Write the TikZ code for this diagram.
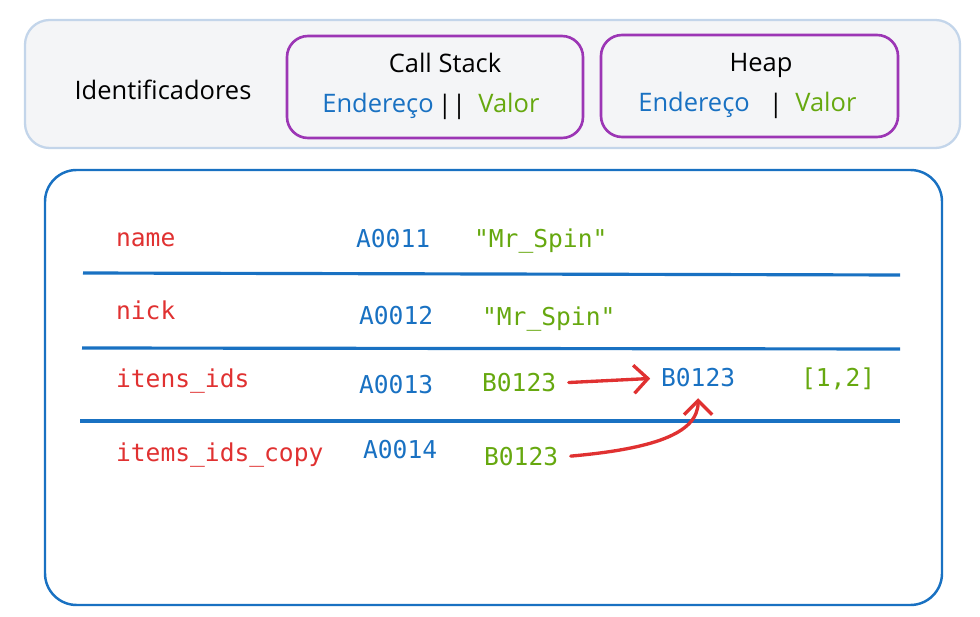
\documentclass[tikz,border=0pt]{standalone}
\usepackage{fontspec}
\setmainfont{Open Sans}
\setmonofont{DejaVu Sans Mono}
\usetikzlibrary{arrows.meta}
\definecolor{exred}{HTML}{E03131}
\definecolor{exblue}{HTML}{1971C2}
\definecolor{exgreen}{HTML}{66A80F}
\definecolor{expurple}{HTML}{9C36B5}
\definecolor{exframe}{HTML}{C3D5EA}
\definecolor{exfill}{HTML}{F4F5F7}

\begin{document}
\begin{tikzpicture}[x=0.02cm,y=-0.02cm,
    hand/.style={font=\fontsize{14.5}{18}\selectfont, anchor=base},
    ident/.style={font=\ttfamily\fontsize{14}{17}\selectfont, text=exred, anchor=base west, inner sep=1pt},
    addr/.style={font=\ttfamily\fontsize{14}{17}\selectfont, text=exblue, anchor=base west, inner sep=1pt},
    val/.style={font=\ttfamily\fontsize{14}{17}\selectfont, text=exgreen, anchor=base west, inner sep=1pt},
    pointer/.style={exred, line width=1.9pt, line cap=round, shorten <=6pt, shorten >=5pt,
      -{Straight Barb[length=8pt,width=16pt]}}]
            \useasboundingbox (0,0) rectangle (980,617);

            % header
            \draw[exframe, line width=1.3pt, fill=exfill, rounded corners=14pt] (25,20) rectangle (960,148);
            \draw[expurple, line width=1.5pt, rounded corners=12pt] (287,36) rectangle (583,138);
            \draw[expurple, line width=1.5pt, rounded corners=12pt] (601,35) rectangle (898,137);
            \node[hand] (ids) at (163,100) {Identificadores};
            \node[hand] (stack) at (445,73) {Call Stack};
            \node[hand, anchor=base west, inner sep=0pt, text=exblue] (stackaddr) at (322,113) {Endereço};
            \node[hand] (stacksep) at (452,114) {||};
            \node[hand, anchor=base west, inner sep=0pt, text=exgreen] (stackval) at (478,113) {Valor};
            \node[hand] (heap) at (761,72) {Heap};
            \node[hand, anchor=base west, inner sep=0pt, text=exblue] (heapaddrh) at (638,112) {Endereço};
            \node[hand] (heapsep) at (776,113) {|};
            \node[hand, anchor=base west, inner sep=0pt, text=exgreen] (heapval) at (795,112) {Valor};

            % memory
            \draw[exblue, line width=1.4pt, rounded corners=18pt] (45,170) rectangle (942,605);
            \draw[exblue, line width=1.8pt] (83,273) -- (900,275);
            \draw[exblue, line width=1.8pt] (82,348) -- (900,349);
            \draw[exblue, line width=1.8pt] (80,421) -- (900,421);

            \node[ident] (n1) at (114,247) {name};
            \node[addr] (a1) at (354,248) {A0011};
            \node[val] (v1) at (472,248) {"Mr\_Spin"};
            \node[ident] (n2) at (114,320) {nick};
            \node[addr] (a2) at (357,325) {A0012};
            \node[val] (v2) at (480,326) {"Mr\_Spin"};
            \node[ident] (n3) at (114,388) {itens\_ids};
            \node[addr] (a3) at (357,394) {A0013};
            \node[val] (v3) at (480,392) {B0123};
            \node[addr] (heapaddr) at (659,387) {B0123};
            \node[val] (heapval2) at (799,387) {[1,2]};
            \node[ident] (n4) at (114,462) {items\_ids\_copy};
            \node[addr] (a4) at (361,459) {A0014};
            \node[val] (v4) at (482,466) {B0123};

            \draw[pointer] (v3.east) -- (heapaddr.west);
            \draw[pointer] (v4.east) .. controls +(90,-8) and +(0,45) .. (heapaddr.south);
\end{tikzpicture}
\end{document}
